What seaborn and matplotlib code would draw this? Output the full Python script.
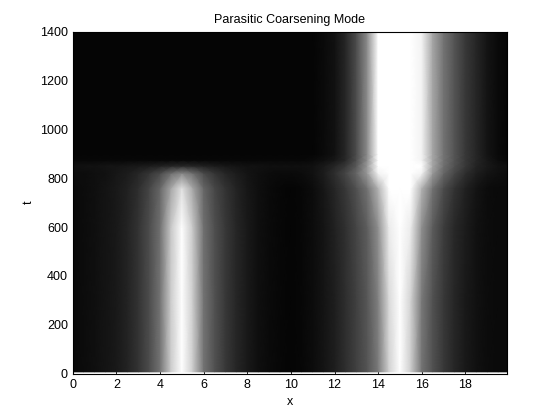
import matplotlib
matplotlib.use("Agg")
import matplotlib.pyplot as plt
import numpy as np
import seaborn as sns

# sample positions along x (step 0.5) and the time rows
x_pos = [0.0, 0.5, 1.0, 1.5, 2.0, 2.5, 3.0, 3.5, 4.0, 4.5, 5.0, 5.5, 6.0, 6.5,
         7.0, 7.5, 8.0, 8.5, 9.0, 9.5, 10.0, 10.5, 11.0, 11.5, 12.0, 12.5,
         13.0, 13.5, 14.0, 14.5, 15.0, 15.5, 16.0, 16.5, 17.0, 17.5, 18.0,
         18.5, 19.0, 19.5, 20.0]
t_rows = [8, 300, 600, 760, 820, 850, 875, 900, 1400]

# grey level of each row (0 = black, >=1 = white)
u_t8 = [0.04, 0.05, 0.06, 0.08, 0.10, 0.14, 0.20, 0.30, 0.45, 0.80, 1.20, 0.80, 0.45, 0.32,
        0.22, 0.15, 0.10, 0.06, 0.04, 0.03, 0.02, 0.03, 0.05, 0.08, 0.12, 0.18,
        0.25, 0.33, 0.48, 0.82, 1.20, 0.80, 0.45, 0.32, 0.22, 0.15, 0.10,
        0.07, 0.05, 0.04, 0.04]
u_t300 = [0.04, 0.05, 0.06, 0.08, 0.10, 0.14, 0.20, 0.30, 0.45, 0.80, 1.20, 0.80, 0.45, 0.32,
          0.22, 0.15, 0.10, 0.06, 0.04, 0.03, 0.02, 0.03, 0.05, 0.08, 0.12, 0.18,
          0.25, 0.34, 0.50, 0.85, 1.22, 0.82, 0.47, 0.32, 0.22, 0.15, 0.10,
          0.07, 0.05, 0.04, 0.04]
u_t600 = [0.04, 0.05, 0.06, 0.08, 0.10, 0.14, 0.20, 0.30, 0.44, 0.78, 1.12, 0.78, 0.44, 0.31,
          0.22, 0.15, 0.10, 0.06, 0.04, 0.03, 0.02, 0.03, 0.05, 0.08, 0.13, 0.19,
          0.27, 0.37, 0.56, 0.92, 1.25, 0.92, 0.56, 0.36, 0.24, 0.16, 0.11,
          0.07, 0.05, 0.04, 0.04]
u_t760 = [0.04, 0.05, 0.06, 0.08, 0.10, 0.13, 0.18, 0.27, 0.40, 0.65, 0.88, 0.65, 0.40, 0.28,
          0.20, 0.14, 0.09, 0.06, 0.04, 0.03, 0.02, 0.03, 0.05, 0.09, 0.15, 0.22,
          0.32, 0.45, 0.70, 1.10, 1.30, 1.10, 0.70, 0.45, 0.30, 0.20, 0.13,
          0.08, 0.05, 0.04, 0.04]
u_t820 = [0.05, 0.05, 0.06, 0.07, 0.09, 0.11, 0.15, 0.21, 0.29, 0.43, 0.53, 0.43, 0.29, 0.21,
          0.15, 0.11, 0.08, 0.06, 0.05, 0.04, 0.04, 0.05, 0.07, 0.11, 0.18, 0.27,
          0.40, 0.60, 0.95, 1.20, 1.30, 1.20, 0.95, 0.60, 0.40, 0.28, 0.18,
          0.12, 0.08, 0.06, 0.05]
u_t850 = [0.06, 0.07, 0.07, 0.08, 0.08, 0.09, 0.10, 0.11, 0.13, 0.15, 0.16, 0.15, 0.13, 0.11,
          0.09, 0.08, 0.07, 0.07, 0.06, 0.06, 0.06, 0.06, 0.07, 0.10, 0.15, 0.22,
          0.35, 0.60, 1.10, 1.30, 1.30, 1.30, 1.05, 0.65, 0.44, 0.32, 0.22,
          0.14, 0.10, 0.07, 0.06]
u_t875 = [0.03, 0.03, 0.03, 0.03, 0.03, 0.03, 0.03, 0.03, 0.03, 0.03, 0.03, 0.03, 0.03, 0.03,
          0.03, 0.03, 0.03, 0.03, 0.03, 0.03, 0.03, 0.03, 0.04, 0.06, 0.09, 0.16,
          0.31, 0.56, 1.20, 1.30, 1.30, 1.30, 0.95, 0.65, 0.45, 0.33, 0.22,
          0.15, 0.09, 0.05, 0.03]
u_t900 = [0.02, 0.02, 0.02, 0.02, 0.02, 0.02, 0.02, 0.02, 0.02, 0.02, 0.02, 0.02, 0.02, 0.02,
          0.02, 0.02, 0.02, 0.02, 0.02, 0.02, 0.02, 0.02, 0.02, 0.04, 0.07, 0.15,
          0.30, 0.55, 1.20, 1.30, 1.30, 1.30, 0.95, 0.65, 0.45, 0.33, 0.22,
          0.15, 0.08, 0.04, 0.02]
u_t1400 = [0.02, 0.02, 0.02, 0.02, 0.02, 0.02, 0.02, 0.02, 0.02, 0.02, 0.02, 0.02, 0.02, 0.02,
           0.02, 0.02, 0.02, 0.02, 0.02, 0.02, 0.02, 0.02, 0.02, 0.04, 0.07, 0.15,
           0.30, 0.55, 1.20, 1.30, 1.30, 1.30, 0.95, 0.65, 0.45, 0.33, 0.22,
           0.15, 0.08, 0.04, 0.02]

x_ticks = [0, 2, 4, 6, 8, 10, 12, 14, 16, 18]
t_ticks = [0, 200, 400, 600, 800, 1000, 1200, 1400]

sns.set_style("white", {"xtick.direction": "in", "ytick.direction": "in",
                        "axes.edgecolor": "black", "text.color": "black",
                        "axes.labelcolor": "black", "xtick.color": "black",
                        "ytick.color": "black"})
plt.rcParams["font.family"] = ["Liberation Sans", "DejaVu Sans"]

field = np.array([u_t8, u_t300, u_t600, u_t760, u_t820, u_t850, u_t875, u_t900, u_t1400])

fig = plt.figure(figsize=(5.6, 4.2), dpi=100)
ax = fig.add_axes([0.13, 0.11, 0.775, 0.815])
ax.pcolormesh(x_pos, t_rows, field, shading="gouraud", cmap="gray", vmin=0, vmax=1)
ax.set_axisbelow(True)
ax.set_xlim(0, 19.9)
ax.set_ylim(0, 1400)
ax.set_xticks(x_ticks)
ax.set_yticks(t_ticks)
ax.tick_params(labelsize=9, length=4, width=0.6, color="black", labelcolor="black",
               bottom=True, left=True, top=True, right=True)
for sp in ax.spines.values():
    sp.set_linewidth(0.8)
    sp.set_color("black")
ax.set_xlabel("x", fontsize=9, color="black")
ax.set_ylabel("t", fontsize=9, color="black")
ax.set_title("Parasitic Coarsening Mode", fontsize=9, color="black")

plt.savefig("out.png", dpi=100)
